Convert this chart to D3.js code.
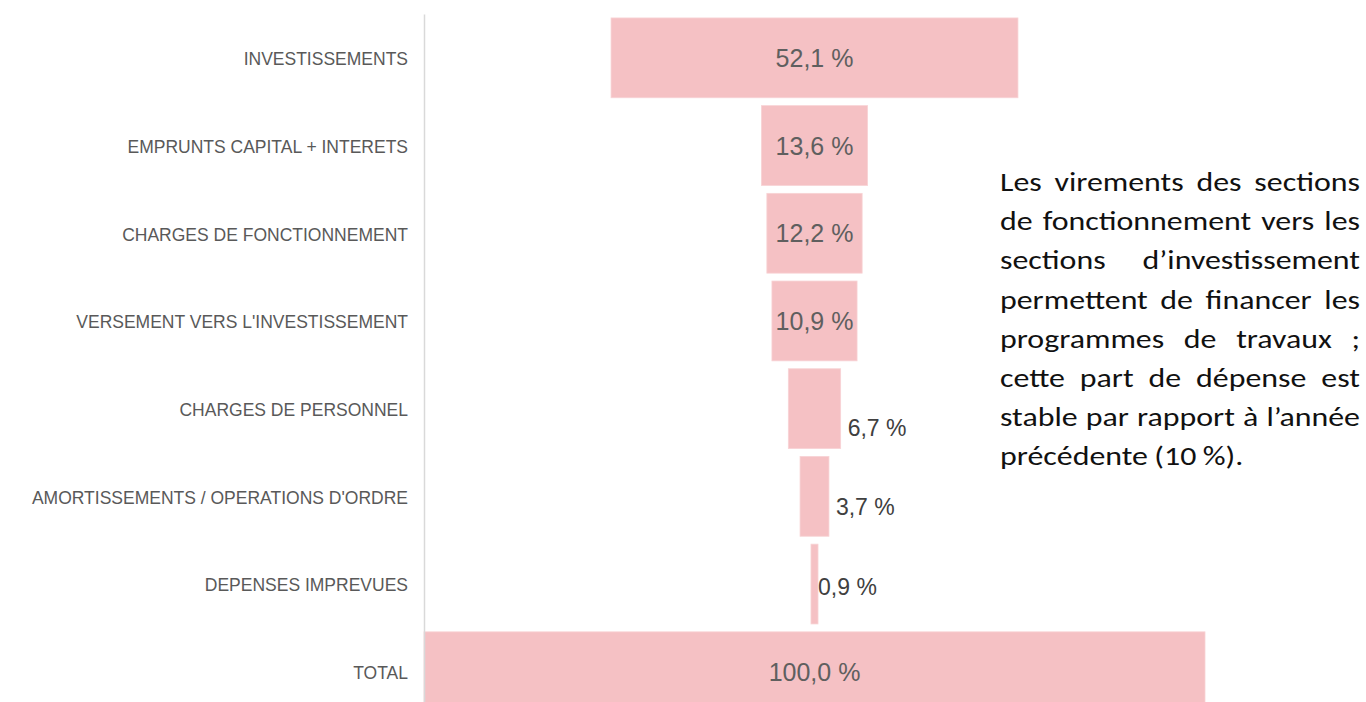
<!DOCTYPE html>
<html>
<head>
<meta charset="utf-8">
<script src="https://cdn.jsdelivr.net/npm/d3@7"></script>
<style>
  html, body { margin: 0; padding: 0; background: #fff; }
  svg { display: block; }
</style>
</head>
<body>
<div id="chart"></div>
<script>
// data
let categories = [
  "INVESTISSEMENTS",
  "EMPRUNTS CAPITAL + INTERETS",
  "CHARGES DE FONCTIONNEMENT",
  "VERSEMENT VERS L'INVESTISSEMENT",
  "CHARGES DE PERSONNEL",
  "AMORTISSEMENTS / OPERATIONS D'ORDRE",
  "DEPENSES IMPREVUES",
  "TOTAL"
];
let values = [52.1, 13.6, 12.2, 10.9, 6.7, 3.7, 0.9, 100.0];

let noteLines = [
  "Les virements des sections",
  "de fonctionnement vers les",
  "sections d\u2019investissement",
  "permettent de financer les",
  "programmes de travaux ;",
  "cette part de dépense est",
  "stable par rapport à l\u2019année",
  "précédente (10 %)."
];

let w = 1366, h = 702;
let axisX = 424;
let plotW = 781;

let svg = d3.select("#chart").append("svg")
    .attr("width", w)
    .attr("height", h);

let data = categories.map((c, i) => ({name: c, value: values[i]}));

let xScale = d3.scaleLinear().domain([0, 100]).range([0, plotW]);
let cx = axisX + plotW / 2;

let yScale = d3.scaleBand()
    .domain(categories)
    .range([14, 14 + 8 * 87.7])
    .paddingInner(0.09)
    .paddingOuter(0.045);

let fmt = v => d3.format(".1f")(v).replace(".", ",") + " %";

// bars
svg.append("g").selectAll("rect")
  .data(data)
  .enter()
  .append("rect")
    .attr("x", d => cx - xScale(d.value) / 2)
    .attr("y", d => yScale(d.name))
    .attr("width", d => xScale(d.value))
    .attr("height", yScale.bandwidth())
    .attr("fill", "#f5c1c4")
    .attr("stroke", "#f8d3d5")
    .attr("stroke-width", 0.8);

// category axis
let yAxis = d3.axisLeft(yScale).tickSize(0).tickPadding(16);
let yAxisGroup = svg.append("g")
    .attr("transform", "translate(" + axisX + ",0)")
    .call(yAxis);
yAxisGroup.select(".domain").attr("stroke", "#d9d9d9").attr("stroke-width", 1.5);
yAxisGroup.selectAll("text")
    .attr("fill", "#595959")
    .attr("dy", "0.42em")
    .style("font-family", "'Liberation Sans', Arial, sans-serif")
    .style("font-size", "17.5px");

// outside labels sit lower and closer for thinner bars (as in the source)
let dropScale = d3.scaleLinear().domain([7, 52]).range([3, 19]);
let gapScale = d3.scaleLinear().domain([7, 29]).range([0, 7]).clamp(true);

// value labels
let labels = svg.append("g").selectAll("text")
  .data(data)
  .enter()
  .append("text")
    .text(d => fmt(d.value))
    .style("font-family", "'Liberation Sans', Arial, sans-serif")
    .attr("dominant-baseline", "central");

labels.each(function(d){
  let t = d3.select(this);
  t.style("font-size", "25px");
  let tw = this.getComputedTextLength();
  let bw = xScale(d.value);
  let yc = yScale(d.name) + yScale.bandwidth() / 2;
  if (tw + 4 < bw) {
    t.attr("x", cx).attr("y", yc)
      .attr("text-anchor", "middle")
      .attr("fill", "#5f5f5f");
  } else {
    t.style("font-size", "23px")
      .attr("x", cx + bw / 2 + gapScale(bw))
      .attr("y", yc + dropScale(bw))
      .attr("text-anchor", "start")
      .attr("fill", "#404040");
  }
});

// justified note on the right (source text is a bit wider than Carlito)
let noteX = 1000, noteRight = 1360, noteTop = 191, lineStep = 39.2;
let stretch = 1.16;
let noteWidth = (noteRight - noteX) / stretch;
let note = svg.append("g")
    .attr("transform", "translate(" + noteX + ",0) scale(" + stretch + ",1)")
    .style("font-family", "Carlito, Calibri, 'Liberation Sans', sans-serif")
    .style("font-size", "27.5px")
    .attr("fill", "#111");

noteLines.forEach((line, i) => {
  let words = line.split(" ");
  let y = noteTop + i * lineStep;
  let g = note.append("g");
  let nodes = words.map(wd => g.append("text").attr("y", y).text(wd));
  let widths = nodes.map(n => n.node().getComputedTextLength());
  let total = d3.sum(widths);
  let last = i === noteLines.length - 1;
  let gap = last ? 5.5 : (noteWidth - total) / (words.length - 1);
  let pos = 0;
  nodes.forEach((n, k) => {
    n.attr("x", pos);
    pos += widths[k] + gap;
  });
});
</script>
</body>
</html>
